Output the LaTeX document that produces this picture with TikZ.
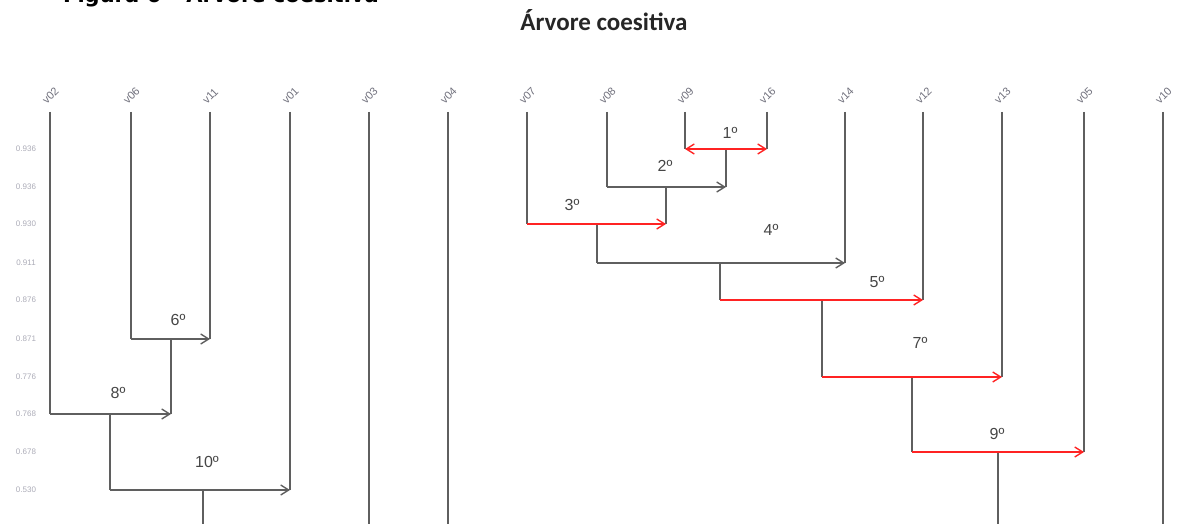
\documentclass[tikz,border=0pt]{standalone}
\usepackage{fontspec}
\setmainfont{Liberation Sans}
\newfontfamily\titlefont{Carlito}
\newfontfamily\capfont{DejaVu Sans}
\usetikzlibrary{arrows.meta}
\definecolor{linegray}{RGB}{95,95,95}
\definecolor{mergered}{RGB}{255,35,35}
\definecolor{textgray}{RGB}{70,70,70}
\definecolor{ticktext}{RGB}{150,150,165}
\begin{document}
\begin{tikzpicture}[x=1pt,y=-1pt,
  branch/.style={draw=linegray, line width=1.8pt},
  tip/.style={-{Straight Barb[length=8pt,width=10pt,line width=1.4pt]}},
  grayjoin/.style={branch, tip},
  redjoin/.style={draw=mergered, line width=2.4pt, tip},
  redboth/.style={draw=mergered, line width=2.4pt,
    {Straight Barb[length=8pt,width=10pt,line width=1.4pt]}-{Straight Barb[length=8pt,width=10pt,line width=1.4pt]}},
  leaflabel/.style={font=\fontsize{11}{12}\selectfont, text=ticktext!75!black, rotate=45, anchor=south west, inner sep=0pt},
  ticklabel/.style={font=\fontsize{8}{9}\selectfont, text=ticktext!80, inner sep=0pt},
  steplabel/.style={font=\fontsize{16}{18}\selectfont, text=textgray, inner sep=0pt}
]
\useasboundingbox (0,0) rectangle (1181,524);

% caption and title
\node[anchor=base west, inner sep=0pt, font=\capfont\bfseries\fontsize{21}{23}\selectfont] (caption) at (63,3) {Figura 6 – Árvore coesitiva};
\node[font=\titlefont\bfseries\fontsize{25}{27}\selectfont, text=black!85] (title) at (604,20) {Árvore coesitiva};

% similarity levels on the left
\foreach \v/\y in {0.936/149,0.936/187,0.930/224,0.911/263,0.876/300,0.871/339,0.776/377,0.768/414,0.678/452,0.530/490}
  \node[ticklabel] at (26,\y) {\v};

% leaves (variables)
\foreach \name/\x in {v02/50,v06/131,v11/210,v01/290,v03/369,v04/448,v07/527,v08/607,v09/685,v16/767,v14/845,v12/923,v13/1002,v05/1084,v10/1163}{
  \coordinate (\name) at (\x,112);
  \node[leaflabel] (lab-\name) at (\x-3,105) {\name};
}

% merge points
\coordinate (n1) at (726,149);
\coordinate (n2) at (666,187);
\coordinate (n3) at (597,224);
\coordinate (n4) at (720,263);
\coordinate (n5) at (822,300);
\coordinate (n6) at (171,339);
\coordinate (n7) at (912,377);
\coordinate (n8) at (110,414);
\coordinate (n9) at (998,452);
\coordinate (n10) at (203,490);
\coordinate (n9end) at (998,524);
\coordinate (n10end) at (203,524);

% vertical stems
\draw[branch] (v09) -- (v09 |- n1);
\draw[branch] (v16) -- (v16 |- n1);
\draw[branch] (n1) -- (n1 |- n2);
\draw[branch] (v08) -- (v08 |- n2);
\draw[branch] (n2) -- (n2 |- n3);
\draw[branch] (v07) -- (v07 |- n3);
\draw[branch] (n3) -- (n3 |- n4);
\draw[branch] (v14) -- (v14 |- n4);
\draw[branch] (n4) -- (n4 |- n5);
\draw[branch] (v12) -- (v12 |- n5);
\draw[branch] (n5) -- (n5 |- n7);
\draw[branch] (v13) -- (v13 |- n7);
\draw[branch] (n7) -- (n7 |- n9);
\draw[branch] (v05) -- (v05 |- n9);
\draw[branch] (n9) -- (n9end);
\draw[branch] (v06) -- (v06 |- n6);
\draw[branch] (v11) -- (v11 |- n6);
\draw[branch] (n6) -- (n6 |- n8);
\draw[branch] (v02) -- (v02 |- n8);
\draw[branch] (n8) -- (n8 |- n10);
\draw[branch] (v01) -- (v01 |- n10);
\draw[branch] (n10) -- (n10end);
\draw[branch] (v03) -- (v03 |- n10end);
\draw[branch] (v04) -- (v04 |- n10end);
\draw[branch] (v10) -- (v10 |- n10end);

% joins, in order of fusion
\draw[redboth] (v09 |- n1) -- (v16 |- n1);
\draw[grayjoin] (v08 |- n2) -- (n1 |- n2);
\draw[redjoin] (v07 |- n3) -- (n2 |- n3);
\draw[grayjoin] (n3 |- n4) -- (v14 |- n4);
\draw[redjoin] (n4 |- n5) -- (v12 |- n5);
\draw[grayjoin] (v06 |- n6) -- (v11 |- n6);
\draw[redjoin] (n5 |- n7) -- (v13 |- n7);
\draw[grayjoin] (v02 |- n8) -- (n6 |- n8);
\draw[redjoin] (n7 |- n9) -- (v05 |- n9);
\draw[grayjoin] (n8 |- n10) -- (v01 |- n10);

% step numbers
\node[steplabel] (s1) at (730,133) {1º};
\node[steplabel] (s2) at (665,166) {2º};
\node[steplabel] (s3) at (572,205) {3º};
\node[steplabel] (s4) at (771,230) {4º};
\node[steplabel] (s5) at (877,282) {5º};
\node[steplabel] (s6) at (178,320) {6º};
\node[steplabel] (s7) at (920,343) {7º};
\node[steplabel] (s8) at (118,393) {8º};
\node[steplabel] (s9) at (997,434) {9º};
\node[steplabel] (s10) at (207,462) {10º};
\end{tikzpicture}
\end{document}
